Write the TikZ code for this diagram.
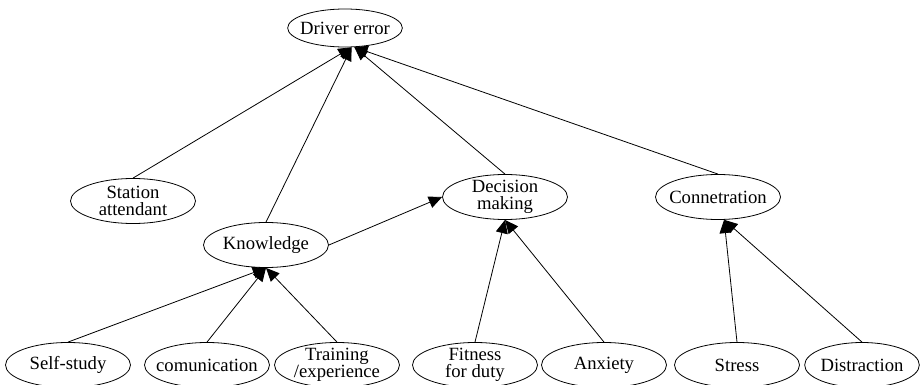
\documentclass[tikz,border=0pt]{standalone}
\usepackage{fontspec}
\setmainfont{Liberation Serif}
\usetikzlibrary{shapes.geometric,arrows.meta}

\tikzset{
  factor/.style={ellipse, draw, line width=0.6pt, inner xsep=-15pt, inner ysep=-8pt,
    minimum width=93.75pt, minimum height=33.75pt, align=center,
    font=\fontsize{14}{13}\selectfont},
  dep/.style={-{Triangle[length=10pt,width=9pt]}, line width=0.6pt}
}

\begin{document}
\begin{tikzpicture}[x=0.75pt,y=-0.75pt]

\useasboundingbox (0,0) rectangle (922,385);

% top
\node[factor, minimum width=86pt, minimum height=28.5pt] (driver) at (345,28) {Driver error};

% middle
\node[factor] (station)  at (133,201) {Station\\attendant};
\node[factor] (know)     at (266,245) {Knowledge};
\node[factor] (decision) at (505,197) {Decision\\making};
\node[factor] (concent)  at (718,197) {Connetration};

% bottom
\node[factor] (selfstudy) at (68,365)  {Self-study};
\node[factor] (comm)      at (207,365) {comunication};
\node[factor] (training)  at (337,365) {Training\\/experience};
\node[factor] (fitness)   at (475,365) {Fitness\\for duty};
\node[factor] (anxiety)   at (604,365) {Anxiety};
\node[factor] (stress)    at (737,365) {Stress};
\node[factor, minimum width=86pt] (distract) at (862,365) {Distraction};

\draw[dep] (station.north)  -- (driver.289);
\draw[dep] (know.north)     -- (driver.289);
\draw[dep] (decision.north) -- (driver.296);
\draw[dep] (concent.north)  -- (driver.296);

\draw[dep] (know.east) -- (decision.west);

\draw[dep] (selfstudy.north) -- (know.south);
\draw[dep] (comm.north)      -- (know.south);
\draw[dep] (training.north)  -- (know.south);

\draw[dep] (fitness.north) -- (decision.south);
\draw[dep] (anxiety.north) -- (decision.south);

\draw[dep] (stress.north)   -- (concent.285);
\draw[dep] (distract.north) -- (concent.285);

\end{tikzpicture}
\end{document}
